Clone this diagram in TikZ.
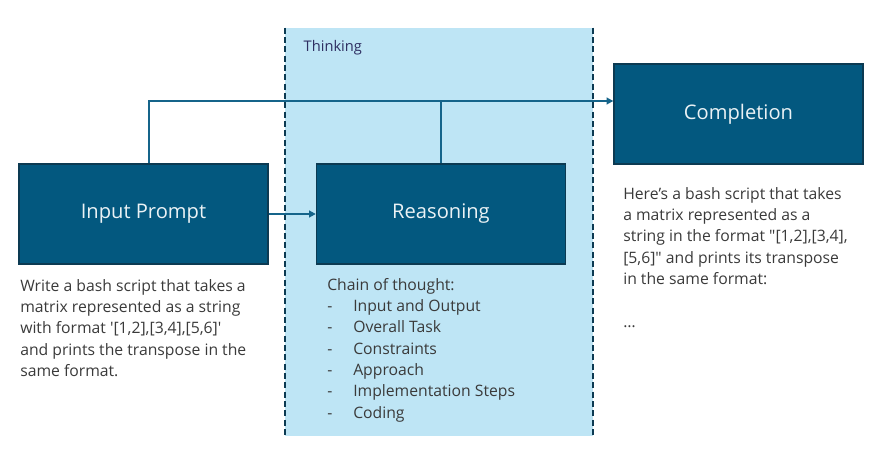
\documentclass[tikz,border=0pt]{standalone}
\usepackage{fontspec}
\setmainfont{Open Sans}
\usepackage{xcolor}
\usepackage{tikz}
\usetikzlibrary{arrows.meta,positioning,calc}
\definecolor{stageblue}{HTML}{03587F}
\definecolor{stageedge}{HTML}{0C3A52}
\definecolor{linkblue}{HTML}{15648A}
\definecolor{thinkfill}{HTML}{BEE5F5}
\definecolor{bodygray}{HTML}{3A3A3A}

\begin{document}
\begin{tikzpicture}[x=0.75pt, y=-0.75pt,
    stage/.style={draw=stageedge, line width=1pt, fill=stageblue, minimum width=186.75pt,
        minimum height=75pt, font=\fontsize{15.1}{17}\selectfont, text=white!92!stageblue},
    body/.style={font=\fontsize{11.8}{16}\selectfont, text=bodygray, align=left, inner sep=0pt},
    link/.style={draw=linkblue, line width=1.3pt},
    tip/.style={-{Triangle[length=5pt, width=5pt]}}
]
    \useasboundingbox (0,0) rectangle (884,463);

    % Thinking band
    \node[fill=thinkfill, minimum width=231pt, minimum height=306pt, inner sep=0pt] (think) at (439,232) {};
    \draw[stageedge, line width=1.2pt, dash pattern=on 4.5pt off 2.5pt] (think.north west) -- (think.south west);
    \draw[stageedge, line width=1.2pt, dash pattern=on 4.5pt off 2.5pt] (think.north east) -- (think.south east);
    \node[font=\fontsize{11}{12}\selectfont, text=bodygray!80!blue, anchor=west] (thinklbl) at (299,48) {Thinking};

    % Stages
    \node[stage] (inp) at (143.5,214) {Input Prompt};
    \node[stage] (rea) at (441,214) {Reasoning};
    \node[stage] (cmp) at (738.5,114) {Completion};

    % Connectors
    \draw[link, tip] (inp.east) -- (rea.west);
    \draw[link, tip] ([xshift=4pt]inp.north) |- ([yshift=9.75pt]cmp.west);
    \draw[link] (rea.north) -- ++(0,-63);

    % Texts under the stages
    \node[body, anchor=north west] (inptxt) at (20,279) {Write a bash script that takes a\\
        matrix represented as a string\\
        with format \textquotesingle[1,2],[3,4],[5,6]\textquotesingle\\
        and prints the transpose in the\\
        same format.};
    \node[body, anchor=north west] (reatxt) at (327,278) {Chain of thought:\\
        \makebox[19.5pt][l]{-}Input and Output\\
        \makebox[19.5pt][l]{-}Overall Task\\
        \makebox[19.5pt][l]{-}Constraints\\
        \makebox[19.5pt][l]{-}Approach\\
        \makebox[19.5pt][l]{-}Implementation Steps\\
        \makebox[19.5pt][l]{-}Coding};
    \node[body, anchor=north west] (cmptxt) at (623,187) {Here’s a bash script that takes\\
        a matrix represented as a\\
        string in the format \textquotedbl[1,2],[3,4],\\
        {}[5,6]\textquotedbl{} and prints its transpose\\
        in the same format:\\[16pt]
        \dots};
\end{tikzpicture}
\end{document}
